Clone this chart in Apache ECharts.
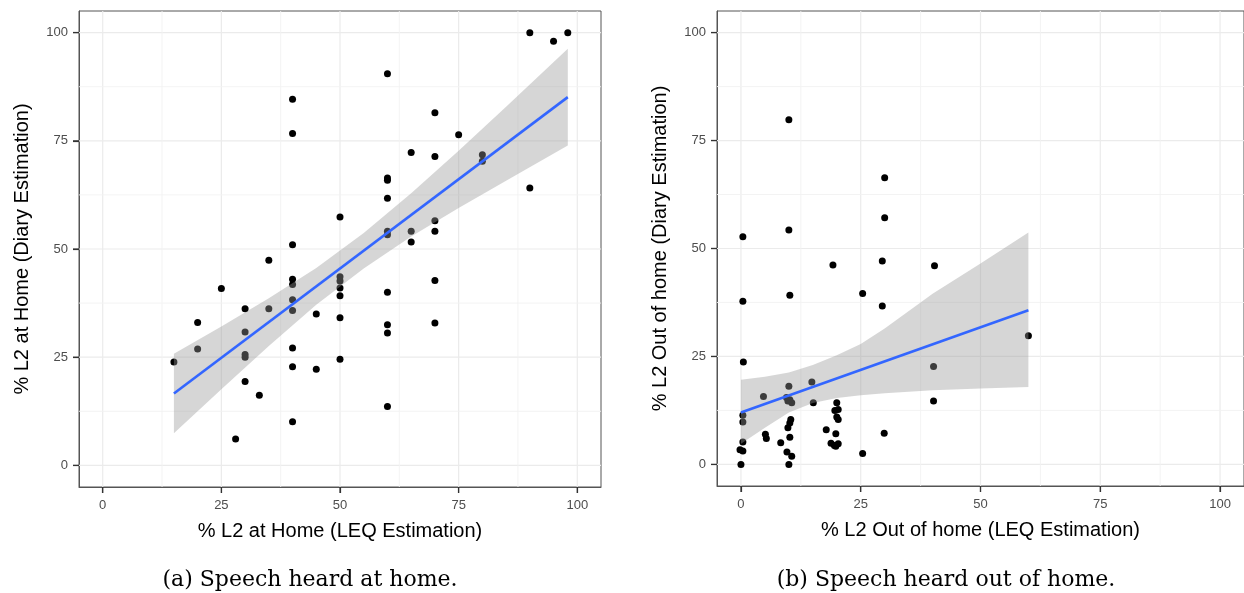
<!DOCTYPE html>
<html><head><meta charset="utf-8">
<script src="https://cdn.jsdelivr.net/npm/echarts@6/dist/echarts.min.js"></script>
<style>html,body{margin:0;padding:0;background:#fff}#c{width:1244px;height:593px}</style>
</head><body><div id="c"></div>
<script>
// ---- data ----
const tickValues = [0, 25, 50, 75, 100];
const minorValues = [12.5, 37.5, 62.5, 87.5];

const homeX = [90,95,98,60,40,40,70,75,65,70, 80,80,90,60,60,60,50,70,70,60, 60,65,65,40,35,25,40,40,50,50, 50,50,60,70,40,40,30,35,45,50, 20,60,60,70,30,20,40,15,30,30, 50,40,45,30,33,60,40,28];
const homeY = [100,98,100,90.5,84.6,76.7,81.5,76.4,72.3,71.4, 71.8,70.3,64.1,66.4,65.9,61.7,57.4,56.5,54.1,54.1, 53.3,54.1,51.6,51,47.4,40.9,43,41.8,43.6,42.6, 41,39.2,40,42.7,38.3,35.8,36.2,36.2,35,34.1, 33,32.5,30.6,32.9,30.8,26.9,27.1,23.9,25.6,25, 24.5,22.8,22.2,19.4,16.2,13.6,10.1,6.1];
const homeFitX = [15, 98];
const homeFitY = [16.6, 85.1];
const homeBandX  = [15, 25, 35, 45, 55, 65, 75, 85, 98];
const homeBandLo = [7.4, 17.6, 27.6, 37.1, 45.5, 52.9, 59.5, 65.8, 73.9];
const homeBandHi = [25.8, 32.1, 38.6, 45.6, 53.7, 62.9, 72.7, 82.9, 96.3];

const outX = [10,30,30,0.4,10,19.2,29.5,40.4,0.4,10.2, 25.4,29.5,60,0.5,40.2,40.2,4.7,10,14.8,15.1, 9.5,10.2,10.6,9.8,20,19.6,20.3,20,20.3,0.4, 0.4,10.4,10.2,9.8,17.8,19.8,29.9,5.1,5.3,10.2, 0.4,8.3,18.8,19.5,20.3,19.8,-0.2,0.4,9.6,10.6, 25.4,0,10];
const outY = [79.8,66.4,57.1,52.7,54.3,46.2,47.1,46,37.8,39.2, 39.6,36.7,29.8,23.7,22.7,14.7,15.7,18.1,19.1,14.3, 15.5,15,14.3,14.7,14.3,12.5,12.7,11,10.4,11.4, 9.8,10.4,9.6,8.5,8,7.1,7.2,7,6,6.3, 5.2,5,4.9,4.4,4.8,4.2,3.4,3.1,2.9,1.9, 2.5,0,0];
const outFitX = [0, 60];
const outFitY = [12.0, 35.7];
const outBandX  = [0, 5, 10, 15, 20, 25, 30, 40, 50, 60];
const outBandLo = [4.8, 8.5, 12.0, 14.2, 15.4, 16.0, 16.5, 17.2, 17.6, 17.9];
const outBandHi = [19.6, 20.3, 21.3, 23.0, 25.3, 27.9, 31.5, 39.5, 46.5, 53.7];

const xNames = ['% L2 at Home (LEQ Estimation)', '% L2 Out of home (LEQ Estimation)'];
const yNames = ['% L2 at Home (Diary Estimation)', '% L2 Out of home (Diary Estimation)'];
const captions = ['(a) Speech heard at home.', '(b) Speech heard out of home.'];

// ---- layout ----
const AX_MIN = -5, AX_MAX = 105, TICK = 6;
const grids = [
  { left: 79, top: 11, width: 522, height: 476 },
  { left: 717, top: 11, width: 527, height: 475 }
];

// ---- helpers ----
const SANS = 'Liberation Sans, Arial, sans-serif';
function zip(a, b) { return a.map((v, i) => [v, b[i]]); }

function gridLines(idx) {
  const data = [];
  tickValues.forEach(v => { data.push([v, 0, 1]); data.push([v, 1, 1]); });
  minorValues.forEach(v => { data.push([v, 0, 0]); data.push([v, 1, 0]); });
  return {
    type: 'custom', xAxisIndex: idx, yAxisIndex: idx, z: 1, silent: true,
    data: data,
    renderItem(params, api) {
      const cs = params.coordSys;
      const v = api.value(0), dir = api.value(1), major = api.value(2);
      let shape;
      if (dir === 0) {
        const x = api.coord([v, 0])[0];
        shape = { x1: x, y1: cs.y, x2: x, y2: cs.y + cs.height };
      } else {
        const y = api.coord([0, v])[1];
        shape = { x1: cs.x, y1: y, x2: cs.x + cs.width, y2: y };
      }
      return { type: 'line', shape: shape,
        style: { stroke: major ? '#EBEBEB' : '#F2F2F2', lineWidth: major ? 1.2 : 0.9 } };
    }
  };
}

function bandSeries(idx, bx, lo, hi) {
  const data = bx.map((x, i) => [x, lo[i], hi[i]]);
  return {
    type: 'custom', xAxisIndex: idx, yAxisIndex: idx, z: 4, silent: true,
    data: data,
    renderItem(params, api) {
      if (params.dataIndex !== 0) return;
      const pts = [];
      for (let i = 0; i < data.length; i++) pts.push(api.coord([data[i][0], data[i][2]]));
      for (let i = data.length - 1; i >= 0; i--) pts.push(api.coord([data[i][0], data[i][1]]));
      return { type: 'polygon', shape: { points: pts }, style: { fill: 'rgba(153,153,153,0.4)' } };
    }
  };
}

const axisLineStyle = { show: true, onZero: false, lineStyle: { color: '#555', width: 1 } };
const tickStyle = { show: true, inside: false, length: TICK, lineStyle: { color: '#333', width: 1.2 }, customValues: tickValues };

function xAxis(idx) {
  return {
    type: 'value', gridIndex: idx, min: AX_MIN, max: AX_MAX,
    name: xNames[idx], nameLocation: 'middle', nameGap: 34,
    nameTextStyle: { fontFamily: SANS, fontSize: 20, color: '#000' },
    axisLine: axisLineStyle, splitLine: { show: false }, axisTick: tickStyle,
    axisLabel: { customValues: tickValues, margin: 12, fontFamily: SANS, fontSize: 13, color: '#4D4D4D' }
  };
}
function yAxis(idx) {
  return {
    type: 'value', gridIndex: idx, min: AX_MIN, max: AX_MAX,
    name: yNames[idx], nameLocation: 'middle', nameGap: 47,
    nameTextStyle: { fontFamily: SANS, fontSize: 20, color: '#000' },
    axisLine: axisLineStyle, splitLine: { show: false }, axisTick: tickStyle,
    axisLabel: { customValues: tickValues, margin: 11, fontFamily: SANS, fontSize: 13, color: '#4D4D4D' }
  };
}

function panelSeries(idx, px, py, fx, fy, bx, lo, hi) {
  return [
    gridLines(idx),
    { type: 'scatter', xAxisIndex: idx, yAxisIndex: idx, z: 3, silent: true,
      data: zip(px, py), symbol: 'circle', symbolSize: 7,
      itemStyle: { color: '#000', opacity: 1 } },
    bandSeries(idx, bx, lo, hi),
    { type: 'line', xAxisIndex: idx, yAxisIndex: idx, z: 5, silent: true,
      data: zip(fx, fy), showSymbol: false, symbol: 'none',
      lineStyle: { color: '#3366FF', width: 2.6 } }
  ];
}

// tick marks outside the panels (axis furniture), from the same layout and axis range
const tickGraphics = [];
grids.forEach(gr => {
  const bottom = gr.top + gr.height;
  tickValues.forEach(v => {
    const f = (v - AX_MIN) / (AX_MAX - AX_MIN);
    const x = gr.left + f * gr.width;
    const y = bottom - f * gr.height;
    tickGraphics.push({ type: 'line', z: 100, silent: true,
      shape: { x1: x, y1: bottom, x2: x, y2: bottom + TICK },
      style: { stroke: '#333', lineWidth: 1.2 } });
    tickGraphics.push({ type: 'line', z: 100, silent: true,
      shape: { x1: gr.left - TICK, y1: y, x2: gr.left, y2: y },
      style: { stroke: '#333', lineWidth: 1.2 } });
  });
});

const captionGraphics = [
  { type: 'text', x: 310, y: 580, style: { text: captions[0], align: 'center', verticalAlign: 'middle',
    font: '22px "DejaVu Serif", serif', fill: '#000' } },
  { type: 'text', x: 946, y: 580, style: { text: captions[1], align: 'center', verticalAlign: 'middle',
    font: '22px "DejaVu Serif", serif', fill: '#000' } }
];

const chart = echarts.init(document.getElementById('c'), null, { renderer: 'canvas' });
chart.setOption({
  animation: false,
  backgroundColor: '#fff',
  grid: grids.map(g => Object.assign({ show: true, borderColor: '#555', borderWidth: 1, backgroundColor: 'transparent' }, g)),
  xAxis: [xAxis(0), xAxis(1)],
  yAxis: [yAxis(0), yAxis(1)],
  graphic: { elements: captionGraphics.concat(tickGraphics) },
  series: [].concat(
    panelSeries(0, homeX, homeY, homeFitX, homeFitY, homeBandX, homeBandLo, homeBandHi),
    panelSeries(1, outX, outY, outFitX, outFitY, outBandX, outBandLo, outBandHi)
  )
});
</script></body></html>
